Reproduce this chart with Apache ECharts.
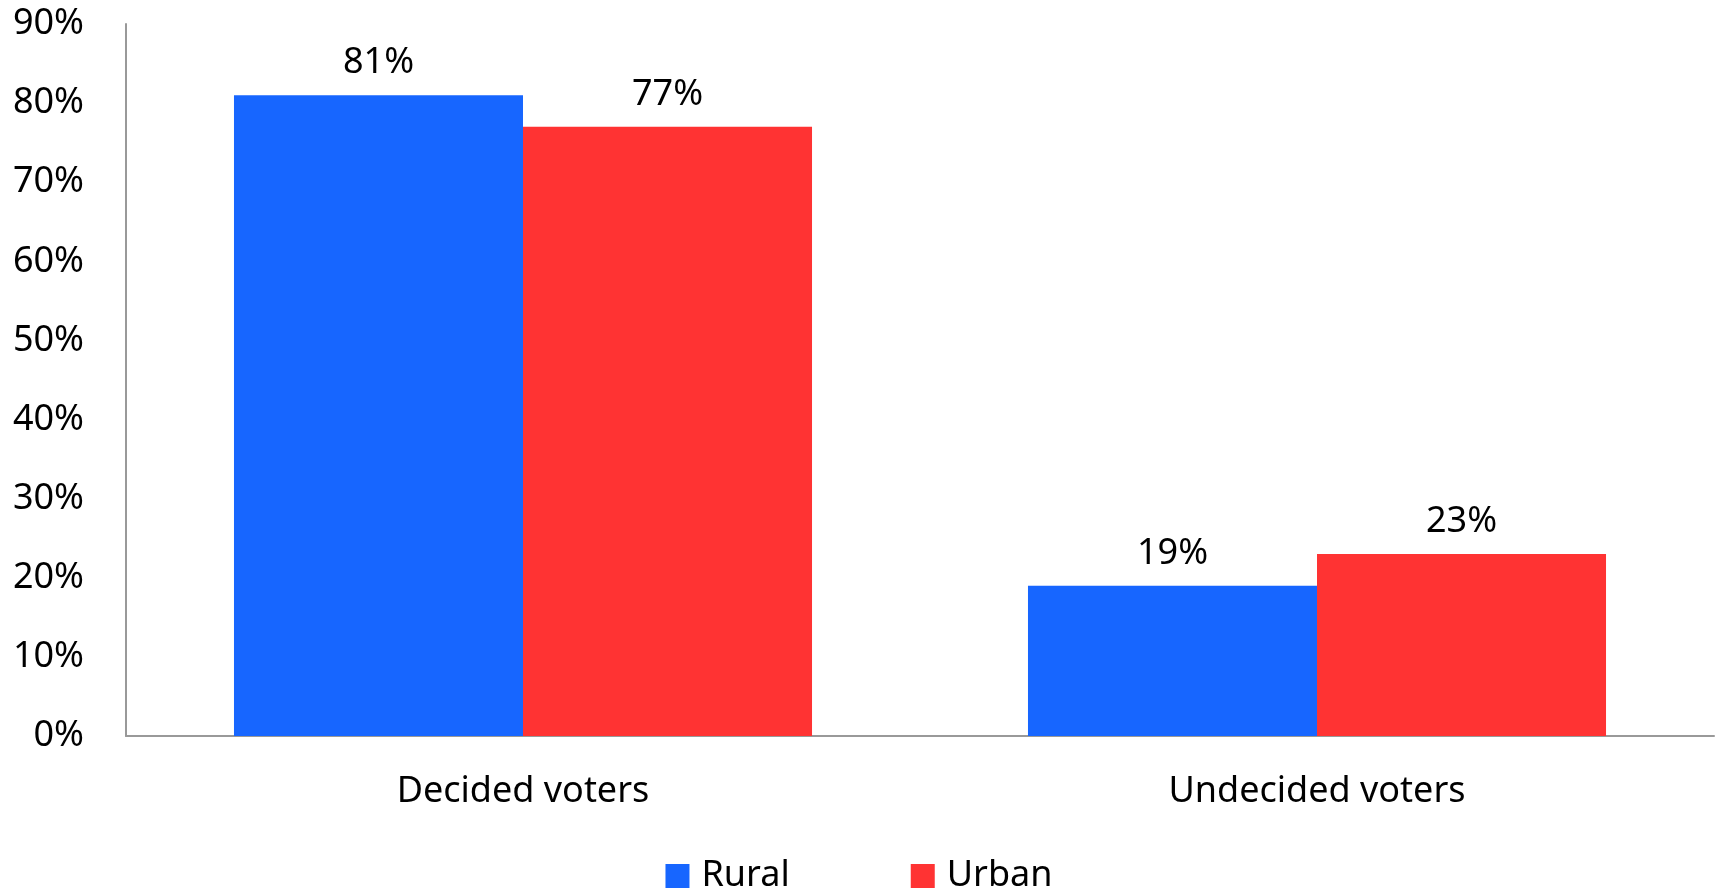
<!DOCTYPE html>
<html>
<head>
<meta charset="utf-8">
<script src="https://cdn.jsdelivr.net/npm/echarts@6/dist/echarts.min.js"></script>
<style>
html,body{margin:0;padding:0;background:#fff;}
#chart{width:1718px;height:890px;}
</style>
</head>
<body>
<div id="chart"></div>
<script>
const categories = ['Decided voters', 'Undecided voters'];
const seriesNames = ['Rural', 'Urban'];
const rural = [81, 19];
const urban = [77, 23];
const colors = ['#1766FF', '#FF3333'];

const FONT = '"Noto Sans", "Open Sans", sans-serif';
const chart = echarts.init(document.getElementById('chart'));
const labelStyle = {
  show: true,
  position: 'top',
  distance: 14,
  formatter: '{c}%',
  color: '#000',
  fontSize: 36,
  fontFamily: FONT
};
chart.setOption({
  animation: false,
  backgroundColor: '#fff',
  textStyle: { fontFamily: FONT },
  grid: { left: 126, right: 4, top: 24, bottom: 154, containLabel: false },
  legend: {
    data: seriesNames,
    left: 'center',
    top: 853,
    itemWidth: 24,
    itemHeight: 24,
    itemGap: 121,
    icon: 'rect',
    textStyle: { fontSize: 36, color: '#000', fontFamily: FONT, padding: [0, 0, 0, 7] }
  },
  xAxis: {
    type: 'category',
    data: categories,
    axisLine: { show: true, lineStyle: { color: '#999', width: 2 } },
    axisTick: { show: false },
    axisLabel: { color: '#000', fontSize: 36, fontFamily: FONT, margin: 38 }
  },
  yAxis: {
    type: 'value',
    min: 0,
    max: 90,
    interval: 10,
    axisLine: { show: true, lineStyle: { color: '#999', width: 2 } },
    axisTick: { show: false },
    splitLine: { show: false },
    axisLabel: { color: '#000', fontSize: 36, fontFamily: FONT, margin: 42, formatter: '{value}%' }
  },
  series: [
    { name: seriesNames[0], type: 'bar', data: rural, itemStyle: { color: colors[0] },
      barGap: '0%', barCategoryGap: '27.2%', label: labelStyle },
    { name: seriesNames[1], type: 'bar', data: urban, itemStyle: { color: colors[1] },
      barGap: '0%', barCategoryGap: '27.2%', label: labelStyle }
  ]
});
</script>
</body>
</html>
